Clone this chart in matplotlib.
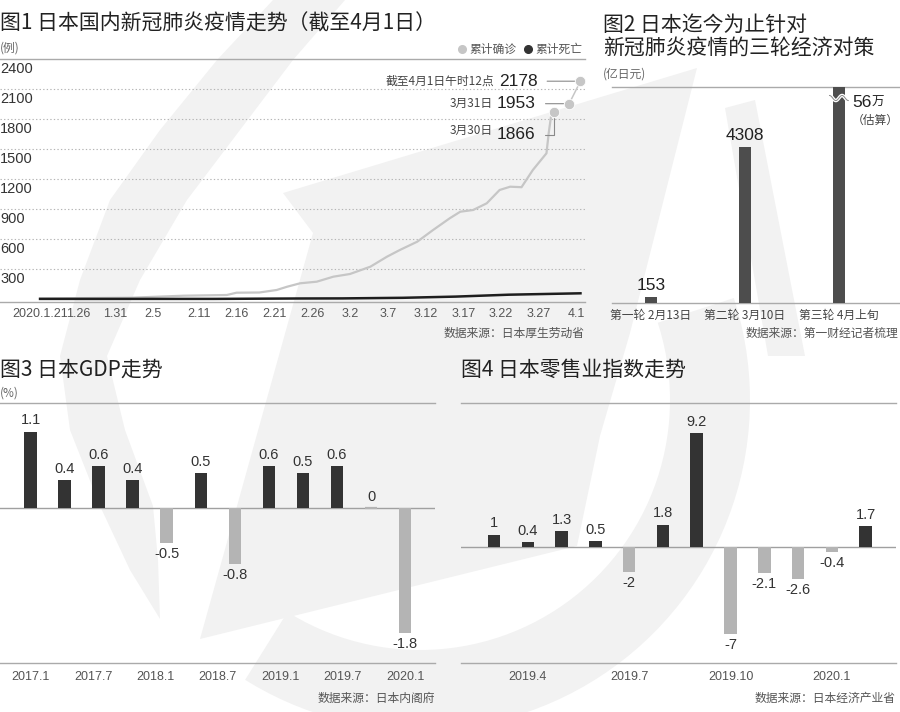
# -*- coding: utf-8 -*-
# Cuatro gráficos sobre Japón: COVID-19, estímulos, PIB y ventas minoristas

import numpy as np
import matplotlib.pyplot as plt
from matplotlib.patches import Polygon
from matplotlib.lines import Line2D

plt.rcParams['font.family'] = ['Noto Sans CJK SC', 'DejaVu Sans']

NUM = ['Liberation Sans Narrow', 'Liberation Sans', 'Noto Sans CJK SC']   # cifras
TXT = ['Liberation Sans', 'Noto Sans CJK SC']                            # ticks

# %% ====================== datos ==============================================

# Fig. 1: días desde 2020-01-21
dias_conf = [0, 12, 19, 24.7, 26, 29, 31.3, 32.7, 34.4, 36.6, 38.8, 41, 43.7,
             45.9, 47.6, 49.9, 52, 54.2, 55.6, 57.3, 59.1, 60.8, 62.2, 63.7,
             65.2, 67, 67.3, 67.6, 68]
conf = [5, 13, 33, 40, 63, 65, 90, 123, 157, 173, 223, 250, 323, 423, 490,
        573, 690, 807, 873, 890, 957, 1090, 1123, 1118, 1290, 1457, 1660,
        1823, 1866]
dias_muer = [0, 23, 34, 40, 48, 55, 62, 71.5]
muertes = [1, 1, 5, 6, 12, 24, 43, 57]

dias_dest = [68, 70, 71.5]
conf_dest = [1866, 1953, 2178]
pref_dest = ['3月30日', '3月31日', '截至4月1日午时12点']

dias_ticks = [0, 5, 10, 15, 21, 26, 31, 36, 41, 46, 51, 56, 61, 66, 71]
etiq_ticks = ['2020.1.21', '1.26', '1.31', '2.5', '2.11', '2.16', '2.21',
              '2.26', '3.2', '3.7', '3.12', '3.17', '3.22', '3.27', '4.1']
y_ticks1 = [300, 600, 900, 1200, 1500, 1800, 2100, 2400]

# Fig. 2
rondas = ['第一轮 2月13日', '第二轮 3月10日', '第三轮 4月上旬']
monto = [153, 4308, 560000]

# Fig. 3
pib = [1.1, 0.4, 0.6, 0.4, -0.5, 0.5, -0.8, 0.6, 0.5, 0.6, 0, -1.8]
etiq_pib = ['2017.1', '2017.7', '2018.1', '2018.7', '2019.1', '2019.7', '2020.1']

# Fig. 4
ventas = [1, 0.4, 1.3, 0.5, -2, 1.8, 9.2, -7, -2.1, -2.6, -0.4, 1.7]
etiq_ventas = ['2019.4', '2019.7', '2019.10', '2020.1']
pos_ventas = [1, 4, 7, 10]

# %% ====================== lienzo ============================================

W, H = 900, 712
fig = plt.figure(figsize=(W / 100, H / 100), dpi=100)
fig.patch.set_facecolor('white')


def fpx(x, y):
    # pixel (origen arriba-izquierda) -> coordenadas de figura
    return (x / W, 1 - y / H)


def rect(x0, y0, x1, y1):
    return [x0 / W, 1 - y1 / H, (x1 - x0) / W, (y1 - y0) / H]


# marca de agua (gris muy claro)
gris_fondo = '#f2f2f2'
media_luna = [(273, 0), (217, 60), (160, 130), (110, 200), (80, 280), (60, 356),
              (70, 430), (100, 506), (130, 570), (160, 619), (158, 560),
              (153, 506), (125, 430), (107, 356), (140, 280), (187, 200),
              (240, 130), (293, 60), (345, 0)]
hoja = [(283, 193), (697, 68), (630, 333), (600, 436), (577, 546), (200, 639),
        (313, 233)]
cola = [(725, 108), (755, 100), (805, 356), (768, 356)]
ang = np.radians(np.linspace(-18, 122, 60))
cx, cy = 420, 400
anillo = ([(cx + 250 * np.cos(a), cy + 250 * np.sin(a)) for a in ang] +
          [(cx + 330 * np.cos(a), cy + 330 * np.sin(a)) for a in ang[::-1]])
for forma in (media_luna, hoja, cola, anillo):
    fig.add_artist(Polygon([fpx(*p) for p in forma], closed=True,
                           facecolor=gris_fondo, edgecolor='none', zorder=0,
                           transform=fig.transFigure))


def limpiar(ax):
    ax.set_facecolor('none')
    for s in ['left', 'right']:
        ax.spines[s].set_visible(False)
    for s in ['top', 'bottom']:
        ax.spines[s].set_color('#aaaaaa')
        ax.spines[s].set_linewidth(1)
    ax.set_yticks([])
    ax.tick_params(axis='x', length=0, colors='#555555')


# %% ====================== Fig. 1 ============================================

ax1 = fig.add_axes(rect(0, 59, 585, 302))
limpiar(ax1)
ax1.set_xlim(-5.3, 72.1)
ax1.set_ylim(-30, 2400)
for v in y_ticks1[:-1]:
    ax1.axhline(v, color='#b5b5b5', lw=0.8, ls=(0, (1.2, 2)), zorder=1)
for v in y_ticks1:
    ax1.annotate(f'{v}', xy=(0, v), xycoords=('axes fraction', 'data'),
                 xytext=(0, -2.5), textcoords='offset points', ha='left',
                 va='top', fontsize=10.5, family=NUM, color='#333333')

ax1.plot(dias_conf, conf, color='#c6c6c6', lw=1.6, zorder=3)
ax1.plot(dias_muer, muertes, color='#1e1e1e', lw=1.8, zorder=4)
ax1.plot(dias_dest[1:], conf_dest[1:], color='#c6c6c6', lw=1.1, zorder=3)
ax1.plot(dias_dest, conf_dest, 'o', ms=7.5, color='#c6c6c6', mec='white',
         mew=0.6, zorder=5, ls='')

ax1.set_xticks(dias_ticks)
ax1.set_xticklabels(etiq_ticks, fontsize=9, family=TXT)
ax1.tick_params(axis='x', pad=4)

# anotaciones de los tres últimos puntos
desp = [(-13.5, -16), (-24, 0), (-31, 0)]
for d, v, p, (dx, dy) in zip(dias_dest, conf_dest, pref_dest, desp):
    if dy == 0:
        con = 'arc3'
    else:
        con = 'angle,angleA=0,angleB=90,rad=0'
    t = ax1.annotate(f'{v}', xy=(d, v), xytext=(dx, dy),
                     textcoords='offset points', ha='right', va='center',
                     fontsize=12.5, family=NUM, color='#222222',
                     arrowprops=dict(arrowstyle='-', color='#8a8a8a', lw=0.8,
                                     shrinkA=5, shrinkB=4, connectionstyle=con,
                                     relpos=(1, 0.5)))
    ax1.annotate(p, xy=(0, 0.5), xycoords=t, xytext=(-3, 0),
                 textcoords='offset points', ha='right', va='center',
                 fontsize=8.5, color='#444444')

ax1.text(0, 1.02, '(例)', transform=ax1.transAxes, fontsize=8.5,
         color='#666666', va='bottom')
leyenda = [Line2D([], [], marker='o', ls='', ms=5.5, color='#c6c6c6'),
           Line2D([], [], marker='o', ls='', ms=5.5, color='#333333')]
ax1.legend(leyenda, ['累计确诊', '累计死亡'], loc='lower right',
           bbox_to_anchor=(1.0, 1.0), ncol=2, frameon=False, fontsize=8.5,
           handletextpad=0.1, columnspacing=0.5, borderpad=0.25,
           borderaxespad=0, handlelength=1, labelcolor='#555555')

fig.text(*fpx(0, 24), '图1 日本国内新冠肺炎疫情走势（截至4月1日）', fontsize=15,
         va='center', color='#222222')
fig.text(*fpx(585, 333), '数据来源：日本厚生劳动省', fontsize=8.5, ha='right',
         va='center', color='#555555')

# %% ====================== Fig. 2 ============================================

ax2 = fig.add_axes(rect(612, 87, 900, 303))
limpiar(ax2)
ax2.set_xlim(-0.415, 2.65)
ax2.set_ylim(0, 5965)
x2 = np.arange(len(monto))
ax2.bar(x2, monto, width=0.12, color='#4d4d4d', zorder=3)
for x, v in zip(x2[:2], monto[:2]):
    ax2.annotate(f'{v}', xy=(x, v), xytext=(0, 3), textcoords='offset points',
                 ha='center', va='bottom', fontsize=12.5, family=NUM,
                 color='#222222')

# corte de la barra que sale del gráfico
ytop = ax2.get_ylim()[1]
xs = x2[2] + np.linspace(-0.1, 0.1, 40)
ys = ytop * 0.949 + 70 * np.sin((xs - x2[2]) / 0.1 * np.pi * 1.5)
ax2.plot(xs, ys, color='white', lw=2.5, zorder=4)
ax2.plot(xs, ys, color='#888888', lw=0.7, zorder=5)

t56 = ax2.annotate('56', xy=(x2[2], ytop), xytext=(9.5, -11.5),
                   textcoords='offset points', ha='left', va='center',
                   fontsize=12.5, family=NUM, color='#222222')
ax2.annotate('万', xy=(1, 0.08), xycoords=t56, ha='left', va='bottom',
             fontsize=9, color='#222222')
ax2.annotate('（估算）', xy=(x2[2], ytop), xytext=(26.5, -24),
             textcoords='offset points', ha='center', va='center',
             fontsize=8.5, color='#444444')

ax2.set_xticks(x2)
ax2.set_xticklabels(rondas, fontsize=8.5, color='#444444')
ax2.tick_params(axis='x', pad=4)

fig.text(*fpx(603, 25), '图2 日本迄今为止针对', fontsize=15, va='center',
         color='#222222')
fig.text(*fpx(603, 48), '新冠肺炎疫情的三轮经济对策', fontsize=15, va='center',
         color='#222222')
fig.text(*fpx(603, 74), '(亿日元)', fontsize=8.5, va='center', color='#666666')
fig.text(*fpx(898, 333), '数据来源：第一财经记者梳理', fontsize=8.5, ha='right',
         va='center', color='#555555')


# %% ====================== Fig. 3 y 4 =======================================

def barras(ax, valores):
    x = np.arange(len(valores))
    colores = ['#333333' if v > 0 else '#b4b4b4' for v in valores]
    grosor = [1.6 if v == 0 else 0 for v in valores]
    ax.bar(x, valores, width=0.37, color=colores, edgecolor=colores,
           linewidth=grosor, zorder=3)
    ax.axhline(0, color='#a0a0a0', lw=1, zorder=2)
    for xi, v in zip(x, valores):
        ax.annotate(f'{v:g}', xy=(xi, v), xytext=(0, 3 if v >= 0 else -3),
                    textcoords='offset points', ha='center',
                    va='bottom' if v >= 0 else 'top', fontsize=10.5,
                    family=NUM, color='#333333')
    ax.tick_params(axis='x', pad=6)


ax3 = fig.add_axes(rect(0, 403, 435, 663))
limpiar(ax3)
ax3.set_xlim(-0.9, 11.88)
ax3.set_ylim(-2.23, 1.51)
barras(ax3, pib)
ax3.set_xticks(np.linspace(0, len(pib) - 1, len(etiq_pib)))
ax3.set_xticklabels(etiq_pib, fontsize=9, family=TXT)

ax4 = fig.add_axes(rect(461, 403, 896, 663))
limpiar(ax4)
ax4.set_xlim(-0.98, 11.9)
ax4.set_ylim(-9.35, 11.6)
barras(ax4, ventas)
ax4.set_xticks(pos_ventas)
ax4.set_xticklabels(etiq_ventas, fontsize=9, family=TXT)

fig.text(*fpx(0, 370), '图3 日本GDP走势', fontsize=15, va='center',
         color='#222222')
fig.text(*fpx(0, 393), '(%)', fontsize=8.5, va='center', color='#666666')
fig.text(*fpx(435, 698), '数据来源：日本内阁府', fontsize=8.5, ha='right',
         va='center', color='#555555')
fig.text(*fpx(461, 370), '图4 日本零售业指数走势', fontsize=15, va='center',
         color='#222222')
fig.text(*fpx(896, 698), '数据来源：日本经济产业省', fontsize=8.5, ha='right',
         va='center', color='#555555')

plt.savefig('out.png', dpi=100)
